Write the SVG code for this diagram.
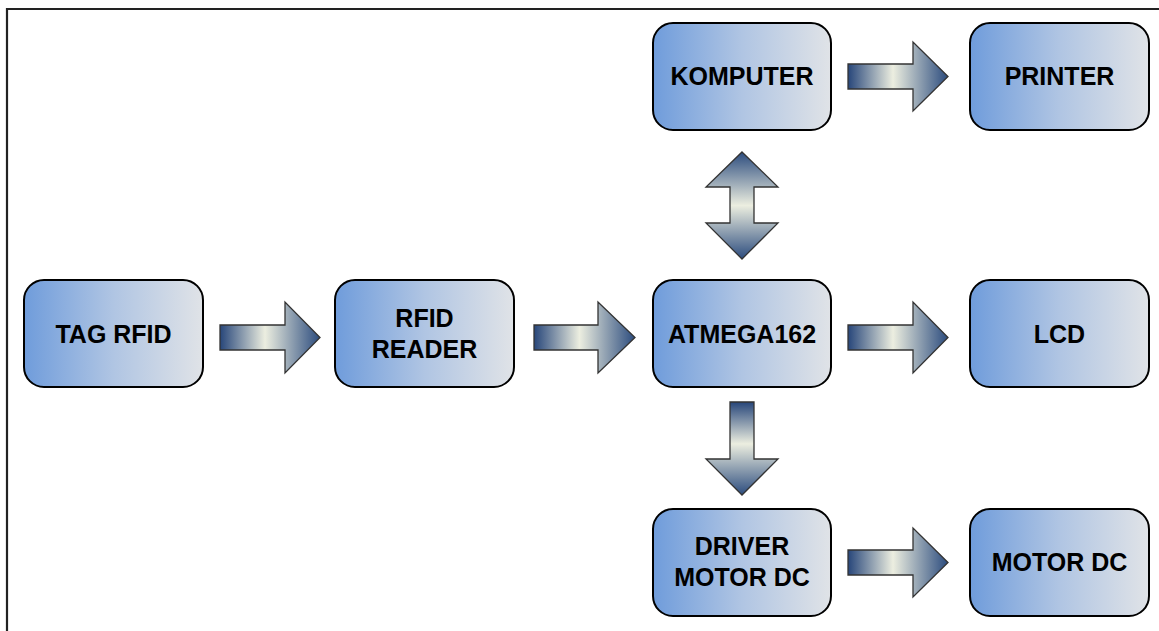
<svg xmlns="http://www.w3.org/2000/svg" width="1159" height="631" viewBox="0 0 1159 631">
  <defs>
    <linearGradient id="boxFill" x1="0" y1="0" x2="1" y2="0">
      <stop offset="0" stop-color="#6f9cdb"/>
      <stop offset="0.5" stop-color="#b0c5e3"/>
      <stop offset="1" stop-color="#e0e3e7"/>
    </linearGradient>
    <linearGradient id="arrowH" x1="0" y1="0" x2="1" y2="0">
      <stop offset="0" stop-color="#27467a"/>
      <stop offset="0.45" stop-color="#eceee0"/>
      <stop offset="1" stop-color="#2c4c7e"/>
    </linearGradient>
    <linearGradient id="arrowV" x1="0" y1="0" x2="0" y2="1">
      <stop offset="0" stop-color="#27467a"/>
      <stop offset="0.45" stop-color="#eceee0"/>
      <stop offset="1" stop-color="#2c4c7e"/>
    </linearGradient>
    <linearGradient id="arrowVV" x1="0" y1="0" x2="0" y2="1">
      <stop offset="0" stop-color="#2c4c7e"/>
      <stop offset="0.5" stop-color="#eceee0"/>
      <stop offset="1" stop-color="#2c4c7e"/>
    </linearGradient>
    <style>
      .box { fill: url(#boxFill); stroke: #000; stroke-width: 2; }
      .label { font-family: "Liberation Sans", Arial, sans-serif; font-weight: bold; font-size: 25px; fill: #000; text-anchor: middle; }
      .ah { fill: url(#arrowH); stroke: #333; stroke-width: 1.3; stroke-linejoin: miter; }
      .av { fill: url(#arrowV); stroke: #333; stroke-width: 1.3; }
      .avv { fill: url(#arrowVV); stroke: #333; stroke-width: 1.3; }
      .frame { fill: none; stroke: #222; stroke-width: 2.2; }
    </style>
  </defs>

  <rect width="1159" height="631" fill="#fff"/>
  <!-- outer frame -->
  <path class="frame" d="M7,631 V9 H1159"/>

  <!-- connectors -->
  <g id="connectors">
    <!-- TAG RFID -> RFID READER -->
    <path class="ah" d="M220,325 H285 V302 L320,337.5 L285,373 V350 H220 Z"/>
    <!-- RFID READER -> ATMEGA162 -->
    <path class="ah" d="M534,325 H598 V302 L635,337.5 L598,373 V350 H534 Z"/>
    <!-- ATMEGA162 -> LCD -->
    <path class="ah" d="M848,325 H913 V302 L948,337.5 L913,373 V350 H848 Z"/>
    <!-- KOMPUTER -> PRINTER -->
    <path class="ah" d="M848,64 H913 V42 L948,76.5 L913,111 V89 H848 Z"/>
    <!-- DRIVER MOTOR DC -> MOTOR DC -->
    <path class="ah" d="M848,550 H913 V528 L948,562.5 L913,597 V575 H848 Z"/>
    <!-- ATMEGA162 <-> KOMPUTER -->
    <path class="avv" d="M742,152 L778,187 H754 V223 H778 L742,259 L706,223 H730 V187 H706 Z"/>
    <!-- ATMEGA162 -> DRIVER MOTOR DC -->
    <path class="av" d="M730,402 H754 V459 H778 L742,495 L706,459 H730 Z"/>
  </g>

  <g id="tag-rfid">
    <rect class="box" x="24" y="280" width="179" height="107" rx="20"/>
    <text class="label" x="113.5" y="342.5">TAG RFID</text>
  </g>
  <g id="rfid-reader">
    <rect class="box" x="335" y="280" width="179" height="107" rx="20"/>
    <text class="label" x="424.5" y="326.5">RFID</text>
    <text class="label" x="424.5" y="357.5">READER</text>
  </g>
  <g id="atmega162">
    <rect class="box" x="653" y="280" width="178" height="107" rx="20"/>
    <text class="label" x="742" y="342.5">ATMEGA162</text>
  </g>
  <g id="lcd">
    <rect class="box" x="970" y="280" width="179" height="107" rx="20"/>
    <text class="label" x="1059.5" y="342.5">LCD</text>
  </g>
  <g id="komputer">
    <rect class="box" x="653" y="23" width="178" height="107" rx="20"/>
    <text class="label" x="742" y="84.5">KOMPUTER</text>
  </g>
  <g id="printer">
    <rect class="box" x="970" y="23" width="179" height="107" rx="20"/>
    <text class="label" x="1059.5" y="84.5">PRINTER</text>
  </g>
  <g id="driver-motor-dc">
    <rect class="box" x="653" y="509" width="178" height="107" rx="20"/>
    <text class="label" x="742" y="555">DRIVER</text>
    <text class="label" x="742" y="585.5">MOTOR DC</text>
  </g>
  <g id="motor-dc">
    <rect class="box" x="970" y="509" width="179" height="107" rx="20"/>
    <text class="label" x="1059.5" y="570.5">MOTOR DC</text>
  </g>
</svg>
